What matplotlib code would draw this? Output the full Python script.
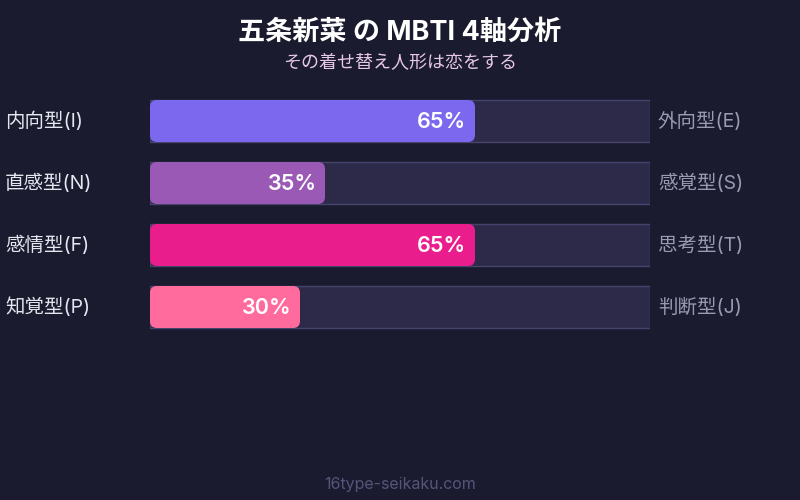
import matplotlib
matplotlib.use("Agg")
import matplotlib.pyplot as plt
from matplotlib.patches import FancyBboxPatch, Rectangle

plt.rcParams['font.family'] = ['Inter', 'Noto Sans CJK JP', 'DejaVu Sans']

title = "五条新菜 の MBTI 4軸分析"
subtitle = "その着せ替え人形は恋をする"
left_labels = ["内向型(I)", "直感型(N)", "感情型(F)", "知覚型(P)"]
right_labels = ["外向型(E)", "感覚型(S)", "思考型(T)", "判断型(J)"]
values = [65, 35, 65, 30]
colors = ["#7b68ee", "#9b59b6", "#e91e8c", "#ff6b9d"]
footer = "16type-seikaku.com"

BG = "#1a1b2e"
fig = plt.figure(figsize=(8, 5), dpi=100, facecolor=BG)

# full-figure overlay for text in pixel coords
tax = fig.add_axes([0, 0, 1, 1])
tax.set_xlim(0, 800)
tax.set_ylim(500, 0)
tax.axis('off')

# bar axes: x 0..100 maps to pixels 150..650, y in pixels
ax = fig.add_axes([150 / 800, 0, 500 / 800, 1])
ax.set_xlim(0, 100)
ax.set_ylim(500, 0)
ax.axis('off')
ax.patch.set_alpha(0)

row0, step, h = 121, 62, 42
for i, (v, c, ll, rl) in enumerate(zip(values, colors, left_labels, right_labels)):
    yc = row0 + step * i
    ax.add_patch(Rectangle((0, yc - h / 2), 100, h, facecolor="#2c2a48",
                           edgecolor="#46446c", linewidth=1))
    ax.add_patch(FancyBboxPatch((0, yc - h / 2), v, h,
                                boxstyle="round,pad=0,rounding_size=1.4",
                                mutation_aspect=5, facecolor=c, edgecolor='none'))
    ax.text(v - 1.7, yc + 1, f"{v}%", ha='right', va='center', color='white',
            fontsize=15.5, fontweight='semibold')
    tax.text(5, yc, ll, ha='left', va='center', color='#e6e6f0', fontsize=14)
    tax.text(658, yc, rl, ha='left', va='center', color='#9a9ab4', fontsize=14)

tax.text(400, 33, title, ha='center', va='center', color='white',
         fontsize=19.5, fontweight='bold')
tax.text(400, 64, subtitle, ha='center', va='center', color='#e8c8e8',
         fontsize=13)
tax.text(400, 484, footer, ha='center', va='center', color='#55557a',
         fontsize=11.5)

fig.savefig("out.png", dpi=100, facecolor=BG)
